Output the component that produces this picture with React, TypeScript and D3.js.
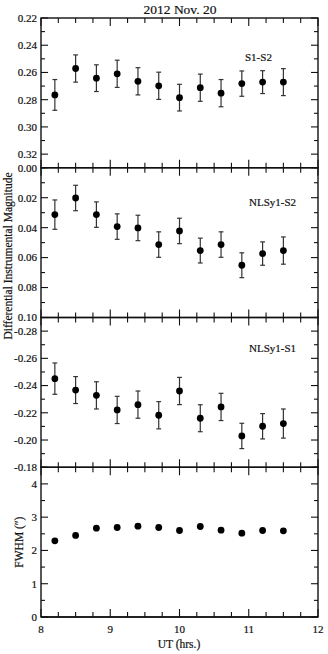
import React from "react";
import * as d3 from "d3";

// observation times (UT hours)
const times = [8.2, 8.5, 8.8, 9.1, 9.4, 9.7, 10.0, 10.3, 10.6, 10.9, 11.2, 11.5];

// S1-S2 differential magnitudes and errors
const s1s2 = [0.2765, 0.2571, 0.2642, 0.261, 0.2665, 0.2698, 0.2785, 0.2712, 0.2752, 0.2682, 0.2671, 0.2671];
const s1s2Err = [0.0113, 0.01, 0.0098, 0.01, 0.01, 0.01, 0.0098, 0.01, 0.01, 0.0093, 0.0084, 0.0099];

// NLSy1-S2
const nls2 = [0.0313, 0.0202, 0.0313, 0.0393, 0.0402, 0.0513, 0.0422, 0.0553, 0.0513, 0.0651, 0.0573, 0.0553];
const nls2Err = [0.0098, 0.0085, 0.0085, 0.0085, 0.0085, 0.0085, 0.0085, 0.0083, 0.0085, 0.0083, 0.0078, 0.0091];

// NLSy1-S1
const nls1 = [-0.2451, -0.2367, -0.2328, -0.2221, -0.226, -0.2182, -0.236, -0.216, -0.2243, -0.203, -0.2101, -0.2121];
const nls1Err = [0.0115, 0.0099, 0.01, 0.01, 0.01, 0.01, 0.01, 0.0099, 0.01, 0.0093, 0.0093, 0.0107];

// seeing (arcsec)
const fwhm = [2.29, 2.45, 2.67, 2.69, 2.73, 2.69, 2.6, 2.72, 2.61, 2.52, 2.6, 2.59];

const W = 328;
const H = 654;
const left = 41;
const right = 318;
const top = 18;
const panelH = 149.75;
const font = "'Liberation Serif', 'Times New Roman', serif";
const ink = "#111";

const x = d3.scaleLinear().domain([8, 12]).range([left, right]);
const xMajor = [8, 9, 10, 11, 12];
const xMinor = d3.range(8, 12.001, 0.25);

type Panel = {
  domain: [number, number];
  major: number[];
  minor: number[];
  fmt: (v: number) => string;
  vals: number[];
  errs?: number[];
  label?: string;
  labelX?: number;
  labelY?: number;
};

const f2 = (v: number) => d3.format(".2f")(v).replace("−", "-");

const panels: Panel[] = [
  {
    domain: [0.22, 0.33],
    major: [0.22, 0.24, 0.26, 0.28, 0.3, 0.32],
    minor: d3.range(0.22, 0.3301, 0.01),
    fmt: f2,
    vals: s1s2,
    errs: s1s2Err,
    label: "S1-S2",
    labelX: 245,
    labelY: 61,
  },
  {
    domain: [0.0, 0.1],
    major: [0.0, 0.02, 0.04, 0.06, 0.08, 0.1],
    minor: d3.range(0, 0.1001, 0.01),
    fmt: f2,
    vals: nls2,
    errs: nls2Err,
    label: "NLSy1-S2",
    labelX: 249,
    labelY: 206,
  },
  {
    domain: [-0.29, -0.18],
    major: [-0.28, -0.26, -0.24, -0.22, -0.2, -0.18],
    minor: d3.range(-0.29, -0.1799, 0.01),
    fmt: f2,
    vals: nls1,
    errs: nls1Err,
    label: "NLSy1-S1",
    labelX: 249,
    labelY: 352,
  },
  {
    domain: [4.5, 0],
    major: [0, 1, 2, 3, 4],
    minor: d3.range(0, 4.51, 0.5),
    fmt: (v) => String(v),
    vals: fwhm,
  },
];

const txt = { fontFamily: font, fill: ink, stroke: ink, strokeWidth: 0.2 };

function PanelView({ p, i }: { p: Panel; i: number }) {
  const y0 = top + i * panelH;
  const y1 = y0 + panelH;
  const y = d3.scaleLinear().domain(p.domain).range([y0, y1]);
  const isMajorY = (v: number) => p.major.some((m) => Math.abs(m - v) < 1e-6);
  const isMajorX = (v: number) => xMajor.some((m) => Math.abs(m - v) < 1e-6);
  const lw = 1.1;
  return (
    <g>
      {/* x ticks on top & bottom, inward */}
      {xMinor.map((v, k) => {
        const len = isMajorX(v) ? 8 : 5;
        const px = x(v);
        return (
          <g key={"xt" + k} stroke={ink} strokeWidth={lw}>
            <line x1={px} x2={px} y1={y0} y2={y0 + len} />
            <line x1={px} x2={px} y1={y1} y2={y1 - len} />
          </g>
        );
      })}
      {/* y ticks on left & right, inward */}
      {p.minor.map((v, k) => {
        const len = isMajorY(v) ? 7 : 4;
        const py = y(v);
        if (py < y0 - 0.5 || py > y1 + 0.5) return null;
        return (
          <g key={"yt" + k} stroke={ink} strokeWidth={lw}>
            <line x1={left} x2={left + len} y1={py} y2={py} />
            <line x1={right} x2={right - len} y1={py} y2={py} />
          </g>
        );
      })}
      {p.major.map((v, k) => (
        <text key={"yl" + k} x={37} y={y(v)} dy="0.35em" textAnchor="end" fontSize={11} {...txt}>
          {p.fmt(v)}
        </text>
      ))}
      {/* error bars */}
      {p.errs &&
        p.vals.map((v, k) => {
          const px = x(times[k]);
          const ya = y(v - p.errs![k]);
          const yb = y(v + p.errs![k]);
          return (
            <g key={"e" + k} stroke="#333" strokeWidth={1.2}>
              <line x1={px} x2={px} y1={ya} y2={yb} />
              <line x1={px - 2.4} x2={px + 2.4} y1={ya} y2={ya} />
              <line x1={px - 2.4} x2={px + 2.4} y1={yb} y2={yb} />
            </g>
          );
        })}
      {p.vals.map((v, k) => (
        <circle key={"p" + k} cx={x(times[k])} cy={y(v)} r={3.4} fill="#000" />
      ))}
      {p.label && (
        <text x={p.labelX} y={p.labelY} fontSize={11} {...txt}>
          {p.label}
        </text>
      )}
      <rect x={left} y={y0} width={right - left} height={panelH} fill="none" stroke={ink} strokeWidth={1.4} />
    </g>
  );
}

export default function App() {
  const bottom = top + 4 * panelH;
  return (
    <svg width={W} height={H} style={{ position: "absolute", left: 0, top: 0, background: "#fff" }}>
      <rect width={W} height={H} fill="#fff" />
      <text x={180} y={14} textAnchor="middle" fontSize={13.5} {...txt}>
        2012 Nov. 20
      </text>
      {panels.map((p, i) => (
        <PanelView key={i} p={p} i={i} />
      ))}
      {xMajor.map((v) => (
        <text key={v} x={x(v)} y={633} textAnchor="middle" fontSize={11} {...txt}>
          {v}
        </text>
      ))}
      <text x={179} y={648} textAnchor="middle" fontSize={11.5} {...txt}>
        UT (hrs.)
      </text>
      <text transform={`translate(12,256) rotate(-90)`} textAnchor="middle" fontSize={11.5} {...txt}>
        Differential Instrumental Magnitude
      </text>
      <text transform={`translate(23,${top + 3.5 * panelH}) rotate(-90)`} textAnchor="middle" fontSize={11.5} {...txt}>
        FWHM (″)
      </text>
      <line x1={left} x2={right} y1={bottom} y2={bottom} stroke={ink} strokeWidth={1.4} />
    </svg>
  );
}
